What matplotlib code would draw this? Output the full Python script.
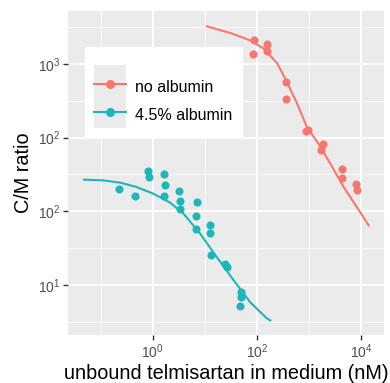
import numpy as np
import matplotlib.pyplot as plt
from matplotlib.lines import Line2D
from matplotlib.patches import Rectangle
from matplotlib.ticker import NullFormatter

plt.rcParams['font.family'] = 'Liberation Sans'
plt.rcParams['mathtext.fontset'] = 'custom'
plt.rcParams['mathtext.rm'] = 'Liberation Sans'
plt.rcParams['mathtext.it'] = 'Liberation Sans:italic'

# values, kept as log10 exponents
# no albumin - measured points
red_x = [1.95, 1.92, 2.20, 2.20, 2.56, 2.56, 2.95, 2.98, 3.27, 3.24, 3.63, 3.63, 3.91, 3.93]
red_y = [4.32, 4.13, 4.27, 4.18, 3.75, 3.52, 3.09, 3.11, 2.92, 2.83, 2.58, 2.45, 2.37, 2.29]
# no albumin - fitted curve
red_fit_x = [1.04, 1.49, 1.87, 2.13, 2.39, 2.54, 2.77, 2.96, 3.22, 3.41, 3.67, 3.92, 4.15]
red_fit_y = [4.51, 4.42, 4.32, 4.21, 4.01, 3.81, 3.47, 3.15, 2.88, 2.65, 2.33, 2.06, 1.81]

# 4.5% albumin - measured points
teal_x = [-0.65, -0.34, -0.09, -0.07, 0.22, 0.23, 0.22, 0.51, 0.53, 0.53, 0.85, 0.83,
          0.83, 1.11, 1.11, 1.12, 1.39, 1.42, 1.70, 1.70, 1.67]
teal_y = [2.30, 2.21, 2.55, 2.46, 2.51, 2.36, 2.21, 2.27, 2.14, 2.03, 2.12, 1.94,
          1.76, 1.81, 1.71, 1.41, 1.29, 1.24, 0.90, 0.84, 0.71]
# 4.5% albumin - fitted curve
teal_fit_x = [-1.32, -0.95, -0.63, -0.31, 0.01, 0.33, 0.59, 0.91, 1.23, 1.55, 1.87, 2.19, 2.26]
teal_fit_y = [2.43, 2.42, 2.39, 2.33, 2.24, 2.12, 1.97, 1.70, 1.38, 1.07, 0.77, 0.55, 0.52]

# y tick labels as printed on the original chart
ytick_labels = ['$10^{1}$', '$10^{2}$', '$10^{2}$', '$10^{3}$']
xtick_labels = ['$10^{0}$', '$10^{2}$', '$10^{4}$']
series_names = ['no albumin', '4.5% albumin']

red = '#F8766D'
teal = '#1DB7BA'

fig = plt.figure(figsize=(3.9, 3.83), dpi=100)
ax = fig.add_axes([0.175, 0.1253, 0.81, 0.846])
ax.set_facecolor('#EBEBEB')

ax.plot(10 ** np.array(red_fit_x), 10 ** np.array(red_fit_y), color=red, lw=1.5, zorder=3)
ax.plot(10 ** np.array(teal_fit_x), 10 ** np.array(teal_fit_y), color=teal, lw=1.5, zorder=3)
ax.scatter(10 ** np.array(red_x), 10 ** np.array(red_y), s=34, color=red, lw=0, zorder=4)
ax.scatter(10 ** np.array(teal_x), 10 ** np.array(teal_y), s=34, color=teal, lw=0, zorder=4)

ax.set_xscale('log')
ax.set_yscale('log')
ax.set_xlim(10 ** -1.623, 10 ** 4.448)
ax.set_ylim(10 ** 0.322, 10 ** 4.718)

ax.set_xticks([1, 100, 10000])
ax.set_xticklabels(xtick_labels)
ax.set_xticks([0.1, 10, 1000], minor=True)
ax.set_yticks([10, 100, 1000, 10000])
ax.set_yticklabels(ytick_labels)
ax.set_yticks(10 ** np.array([0.5, 1.5, 2.5, 3.5, 4.5]), minor=True)
ax.xaxis.set_minor_formatter(NullFormatter())
ax.yaxis.set_minor_formatter(NullFormatter())

ax.grid(which='major', color='white', lw=1.3)
ax.grid(which='minor', color='white', lw=0.6)
ax.set_axisbelow(True)
for s in ax.spines.values():
    s.set_visible(False)
ax.tick_params(which='major', length=3.5, width=1.0, color='#333333',
               labelsize=10, labelcolor='#4D4D4D', pad=2)
ax.tick_params(which='minor', length=0)

ax.set_xlabel('unbound telmisartan in medium (nM)', fontsize=14.3, labelpad=2)
ax.set_ylabel('C/M ratio', fontsize=14.3, labelpad=4)

# legend box (white) and grey key background, ggplot style
ax.add_patch(Rectangle((0.053, 0.608), 0.50, 0.281, transform=ax.transAxes,
                       facecolor='white', edgecolor='none', zorder=4.6))
ax.add_patch(Rectangle((0.0813, 0.639), 0.1013, 0.194, transform=ax.transAxes,
                       facecolor='#EBEBEB', edgecolor='none', zorder=4.7))
handles = [Line2D([], [], color=red, lw=1.5, marker='o', markersize=5.5),
           Line2D([], [], color=teal, lw=1.5, marker='o', markersize=5.5)]
ax.legend(handles, series_names, loc='upper left',
          bbox_to_anchor=(0.0813, 0.802), fontsize=11.5, frameon=False,
          handlelength=2.0, handleheight=1.95, labelspacing=0.25,
          handletextpad=0.6, borderpad=0, borderaxespad=0)

fig.savefig('out.png', dpi=100)
